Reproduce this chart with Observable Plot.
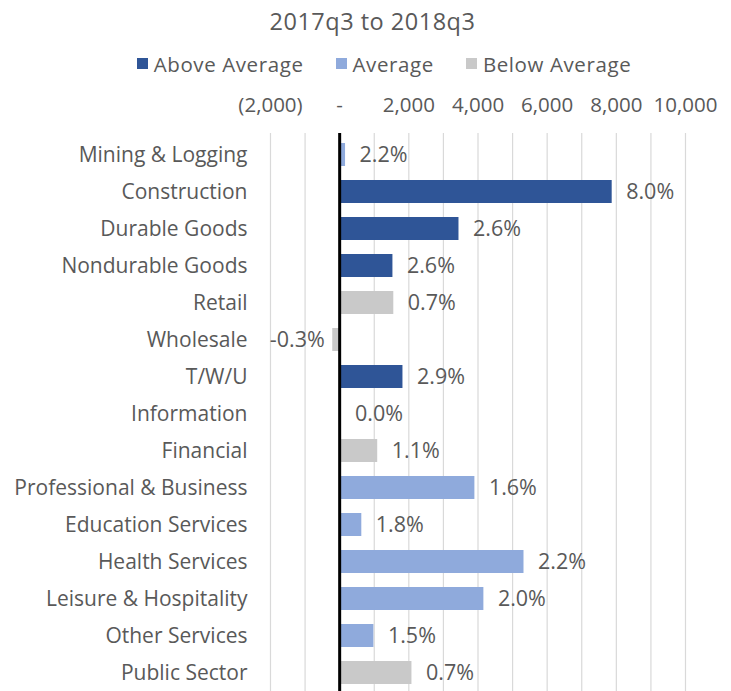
<!DOCTYPE html>
<html>
<head>
<meta charset="utf-8">
<script src="https://cdn.jsdelivr.net/npm/d3@7"></script>
<script src="https://cdn.jsdelivr.net/npm/@observablehq/plot@0.6"></script>
<style>
  html, body { margin: 0; padding: 0; background: #fff; overflow: hidden; }
  body { width: 731px; font-family: "Open Sans", "Liberation Sans", sans-serif; color: #595959; }
  #title { height: 42px; line-height: 42px; text-align: center; font-size: 23.5px; letter-spacing: 0.5px; padding-left: 14px; }
  #legend { height: 43px; display: flex; justify-content: center; align-items: center; font-size: 20.5px; letter-spacing: 0.6px; gap: 32px; padding-left: 37px; box-sizing: border-box; }
  #legend .item { display: flex; align-items: center; }
  #legend .sw { width: 11px; height: 11px; margin-right: 6px; display: inline-block; }
  #chart svg { display: block; }
</style>
</head>
<body>
<div id="title">2017q3 to 2018q3</div>
<div id="legend"></div>
<div id="chart"></div>
<script>
const categories = ["Mining & Logging","Construction","Durable Goods","Nondurable Goods","Retail","Wholesale","T/W/U","Information","Financial","Professional & Business","Education Services","Health Services","Leisure & Hospitality","Other Services","Public Sector"];
const values = [170, 7880, 3450, 1540, 1565, -200, 1830, 40, 1100, 3910, 640, 5330, 4170, 990, 2090];
const pctLabels = ["2.2%","8.0%","2.6%","2.6%","0.7%","-0.3%","2.9%","0.0%","1.1%","1.6%","1.8%","2.2%","2.0%","1.5%","0.7%"];
const groups = ["Average","Above Average","Above Average","Above Average","Below Average","Below Average","Above Average","Below Average","Below Average","Average","Average","Average","Average","Average","Below Average"];
const groupNames = ["Above Average","Average","Below Average"];
const groupColors = ["#2F5597","#8FAADC","#C9C9C9"];
const tickValues = [-2000, 0, 2000, 4000, 6000, 8000, 10000];
const tickLabels = ["(2,000)", "-", "2,000", "4,000", "6,000", "8,000", "10,000"];
const gridValues = [-2000,-1000,0,1000,2000,3000,4000,5000,6000,7000,8000,9000,10000];

const data = categories.map((c, i) => ({cat: c, value: values[i], label: pctLabels[i], group: groups[i]}));

const legend = document.getElementById("legend");
groupNames.forEach((g, i) => {
  const it = document.createElement("div");
  it.className = "item";
  it.innerHTML = `<span class="sw" style="background:${groupColors[i]}"></span>${g}`;
  legend.appendChild(it);
});

const font = "'Open Sans', 'Liberation Sans', sans-serif";
const chart = Plot.plot({
  width: 731,
  height: 608,
  marginLeft: 270,
  marginRight: 46,
  marginTop: 48,
  marginBottom: 0,
  style: { fontFamily: font, color: "#595959", background: "#fff", overflow: "visible" },
  x: { domain: [-2000, 10000], axis: null },
  y: { domain: categories, paddingInner: 0.38, paddingOuter: 0.19, axis: null },
  color: { domain: groupNames, range: groupColors },
  marks: [
    Plot.ruleX(gridValues, { stroke: "#D9D9D9", strokeWidth: 1.2 }),
    Plot.barX(data, { x: "value", y: "cat", fill: "group" }),
    Plot.ruleX([0], { stroke: "#000", strokeWidth: 3 }),
    Plot.text(data.filter(d => d.value >= 0), {
      x: "value", y: "cat", text: "label", textAnchor: "start", dx: 14,
      fontSize: 21.5, fill: "#595959", letterSpacing: 0.6
    }),
    Plot.text(data.filter(d => d.value < 0), {
      x: "value", y: "cat", text: "label", textAnchor: "end", dx: -8,
      fontSize: 21.5, fill: "#595959", letterSpacing: 0.6
    }),
    Plot.axisX(tickValues, { anchor: "top", label: null, tickSize: 0, tickPadding: 22, fontSize: 20.5, tickFormat: d => tickLabels[tickValues.indexOf(d)], fill: "#595959", letterSpacing: 1.5 }),
    Plot.axisY(categories, { anchor: "left", label: null, tickSize: 0, tickPadding: 23, fontSize: 21, fill: "#595959" })
  ]
});
document.getElementById("chart").appendChild(chart);
</script>
</body>
</html>
